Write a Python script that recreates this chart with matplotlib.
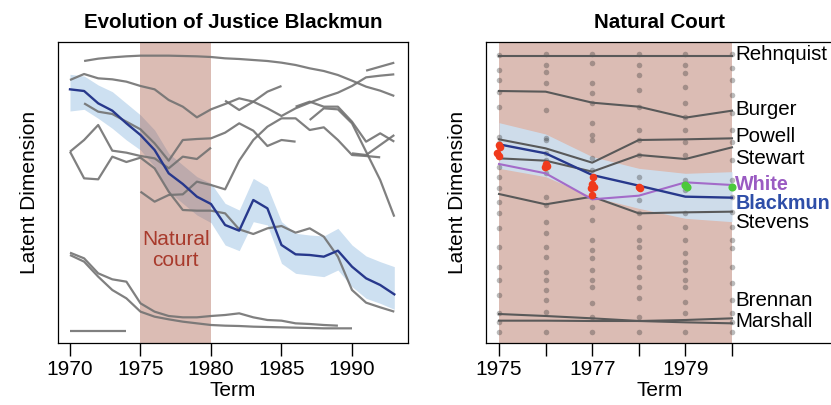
import matplotlib
matplotlib.use("Agg")
import matplotlib.pyplot as plt

plt.rcParams['font.family'] = ['Liberation Sans', 'DejaVu Sans']

# ---------------- Left panel data (latent scale, arbitrary units) ----------------
years_full = list(range(1970, 1994))
blackmun = [852, 847, 810, 788, 750, 715, 670, 600, 568, 530, 508, 445, 428, 520, 495, 385,
            357, 355, 350, 368, 320, 285, 265, 237]
blackmun_hi = [897, 892, 865, 845, 810, 775, 730, 660, 625, 590, 570, 510, 490, 585, 560, 455,
               420, 415, 412, 435, 385, 352, 335, 320]
blackmun_lo = [787, 792, 765, 735, 700, 670, 620, 545, 510, 475, 452, 385, 368, 455, 445, 330,
               300, 295, 290, 310, 260, 225, 210, 192]

rehnquist_years = list(range(1971, 1994))
rehnquist = [937, 944, 948, 951, 953, 953, 953, 952, 951, 949, 945, 943, 940, 937, 932, 925,
             915, 907, 895, 878, 860, 848, 832]
burger_years = list(range(1970, 1986))
burger = [880, 898, 885, 882, 875, 862, 852, 820, 800, 768, 792, 808, 825, 815, 845, 862]
powell_years = list(range(1971, 1987))
powell = [810, 785, 778, 755, 732, 690, 638, 700, 703, 705, 722, 750, 728, 682, 700, 695]
stewart_years = list(range(1970, 1981))
stewart = [665, 700, 745, 668, 662, 652, 645, 615, 650, 643, 677]
line_w_years = list(range(1970, 1994))
line_w = [665, 585, 582, 650, 634, 647, 615, 545, 490, 488, 488, 480, 432, 418, 435, 442,
          422, 435, 410, 350, 250, 212, 198, 185]
line_s_years = list(range(1975, 1993))
line_s = [545, 515, 535, 537, 575, 565, 552, 638, 700, 740, 765, 765, 730, 738, 700, 655, 652, 648]
oconnor_years = list(range(1981, 1994))
oconnor = [818, 790, 815, 795, 772, 795, 812, 828, 842, 862, 888, 893, 897]
scalia_years = list(range(1986, 1994))
scalia = [800, 815, 800, 800, 755, 695, 720, 695]
kennedy_years = list(range(1987, 1994))
kennedy = [760, 795, 792, 750, 665, 580, 470]
souter_years = list(range(1990, 1994))
souter = [660, 655, 685, 715]
thomas_years = list(range(1991, 1994))
thomas = [908, 920, 932]
brennan_years = list(range(1970, 1990))
brennan = [362, 345, 300, 282, 275, 210, 185, 172, 168, 168, 172, 175, 180, 168, 160, 158,
           150, 148, 145, 143]
marshall_years = list(range(1970, 1991))
marshall = [355, 335, 290, 250, 225, 185, 170, 162, 155, 150, 145, 143, 142, 140, 139, 138,
            137, 136, 135, 135, 135]
douglas_years = list(range(1970, 1975))
douglas = [127, 127, 127, 127, 127]

left_xticks = [1970, 1975, 1980, 1985, 1990]

# ---------------- Right panel data ----------------
nc_years = [1975, 1976, 1977, 1978, 1979, 1980]
nc_lines = {
    'Rehnquist': [953, 953, 953, 953, 953, 953],
    'Burger':    [847, 845, 812, 800, 767, 788],
    'Powell':    [702, 675, 632, 700, 702, 705],
    'Stewart':   [645, 638, 605, 655, 643, 678],
    'Stevens':   [538, 507, 530, 480, 483, 485],
    'Brennan':   [178, 172, 165, 157, 160, 165],
    'Marshall':  [158, 158, 157, 157, 153, 150],
}
nc_white = [628, 600, 522, 533, 573, 565]
nc_blackmun = [687, 660, 595, 563, 530, 527]
nc_band_hi = [752, 718, 650, 615, 600, 605]
nc_band_lo = [615, 590, 530, 495, 465, 455]

red_x = [1975.0, 1975.03, 1974.96, 1975.0, 1976.0, 1976.02, 1975.98,
         1977.02, 1977.0, 1977.03, 1976.98, 1977.0, 1978.0, 1978.03]
red_v = [685, 678, 660, 652, 628, 622, 618, 588, 568, 560, 555, 535, 560, 555]
green_x = [1979.0, 1979.03, 1980.0]
green_v = [565, 558, 560]

dots = {
    1975: [955, 910, 880, 845, 800, 710, 690, 655, 620, 590, 555, 515, 480, 435, 380, 320,
           280, 235, 180, 155, 125],
    1976: [958, 925, 905, 870, 790, 705, 700, 660, 640, 600, 530, 505, 455, 420, 380, 350,
           305, 280, 250, 220, 185, 125],
    1977: [958, 930, 870, 840, 810, 750, 715, 700, 645, 610, 530, 500, 460, 400, 370, 345,
           310, 280, 260, 210, 170, 125],
    1978: [958, 925, 895, 850, 800, 730, 700, 655, 590, 560, 520, 480, 440, 400, 380, 350,
           320, 290, 260, 225, 170, 125],
    1979: [958, 925, 900, 860, 810, 770, 730, 695, 655, 580, 550, 480, 440, 400, 360, 335,
           310, 280, 260, 215, 180, 125],
    1980: [958, 915, 880, 835, 780, 730, 695, 640, 580, 530, 485, 440, 400, 375, 320, 270,
           220, 180, 155, 125],
}

label_pos = {'Rehnquist': 955, 'Burger': 790, 'Powell': 710, 'Stewart': 645, 'White': 568,
             'Blackmun': 510, 'Stevens': 452, 'Brennan': 218, 'Marshall': 156}

# ---------------- Styles ----------------
SHADE = (0.65, 0.35, 0.27)
BAND = '#cde0f1'
BLUE = '#27388c'
GRAY = '#727272'
DARKGRAY = '#595959'
PURPLE = '#a36bc9'
FS = 15
LFS = 14.8
BFS = 14.2
TFS = 14.8

fig = plt.figure(figsize=(8.31, 4.05), dpi=100)

# ---------------- Left panel ----------------
ax1 = fig.add_axes([58 / 831, 62 / 405, 350 / 831, 301 / 405])
ax1.fill_between(years_full, blackmun_lo, blackmun_hi, color=BAND, lw=0, zorder=1)
ax1.axvspan(1975, 1980, color=SHADE, alpha=0.4, lw=0, zorder=2)
for xs, ys in [(rehnquist_years, rehnquist), (burger_years, burger), (powell_years, powell),
               (stewart_years, stewart), (line_w_years, line_w), (line_s_years, line_s),
               (oconnor_years, oconnor), (scalia_years, scalia), (kennedy_years, kennedy),
               (souter_years, souter), (thomas_years, thomas), (brennan_years, brennan),
               (marshall_years, marshall), (douglas_years, douglas)]:
    ax1.plot(xs, ys, color=GRAY, lw=1.6, alpha=0.9, zorder=3, solid_capstyle='butt')
ax1.plot(years_full, blackmun, color=BLUE, lw=1.7, zorder=4)
ax1.text(1977.5, 370, 'Natural\ncourt', color='#a83a2c', fontsize=FS, ha='center',
         va='center', linespacing=1.1, zorder=5)
ax1.set_xlim(1969.149, 1993.972)
ax1.set_ylim(91, 994)
ax1.set_xticks(left_xticks)
ax1.set_xticklabels([str(t) for t in left_xticks])
ax1.set_yticks([])
ax1.tick_params(axis='x', direction='out', length=9, width=1, labelsize=FS, pad=3)
ax1.set_xlabel('Term', fontsize=FS, labelpad=2)
ax1.set_ylabel('Latent Dimension', fontsize=FS, labelpad=14)
ax1.set_title('Evolution of Justice Blackmun', fontsize=TFS, fontweight='bold', pad=10)
for s in ax1.spines.values():
    s.set_linewidth(0.9)

# ---------------- Right panel ----------------
ax2 = fig.add_axes([486 / 831, 62 / 405, 364 / 831, 301 / 405])
ax2.axvspan(1975, 1980, color=SHADE, alpha=0.4, lw=0, zorder=1)
ax2.fill_between(nc_years, nc_band_lo, nc_band_hi, color=BAND, alpha=0.9, lw=0, zorder=2)
for yr, vals in dots.items():
    ax2.scatter([yr] * len(vals), vals, s=16, color='#3a3a3a', alpha=0.35, lw=0, zorder=3)
for name, vals in nc_lines.items():
    ax2.plot(nc_years, vals, color=DARKGRAY, lw=1.5, zorder=4)
ax2.plot(nc_years, nc_white, color=PURPLE, lw=1.5, zorder=5)
ax2.plot(nc_years, nc_blackmun, color=BLUE, lw=1.7, zorder=6)
ax2.scatter(red_x, red_v, s=30, color='#f03a1c', lw=0, zorder=7)
ax2.scatter(green_x, green_v, s=34, color='#4cc93c', lw=0, zorder=7)
for name, yv in label_pos.items():
    if name == 'White':
        ax2.text(1980.07, yv, name, color='#9a5bc2', fontsize=BFS, fontweight='bold',
                 va='center', ha='left', clip_on=False)
    elif name == 'Blackmun':
        ax2.text(1980.07, yv, name, color='#2e4ea8', fontsize=BFS, fontweight='bold',
                 va='center', ha='left', clip_on=False)
    else:
        ax2.text(1980.07, yv, name, color='black', fontsize=LFS, va='center', ha='left',
                 clip_on=False)
ax2.set_xlim(1974.721, 1982.532)
ax2.set_ylim(91, 994)
ax2.set_xticks(nc_years)
ax2.set_xticklabels(['1975', '', '1977', '', '1979', ''])
ax2.set_yticks([])
ax2.tick_params(axis='x', direction='out', length=9, width=1, labelsize=FS, pad=3)
ax2.set_xlabel('Term', fontsize=FS, labelpad=2, x=(660 - 486) / 364)
ax2.set_ylabel('Latent Dimension', fontsize=FS, labelpad=14)
ax2.set_title('Natural Court', fontsize=TFS, fontweight='bold', pad=10, x=(660 - 486) / 364)
ax2.spines['right'].set_visible(False)
for s in ax2.spines.values():
    s.set_linewidth(0.9)

fig.savefig('out.png', dpi=100)
